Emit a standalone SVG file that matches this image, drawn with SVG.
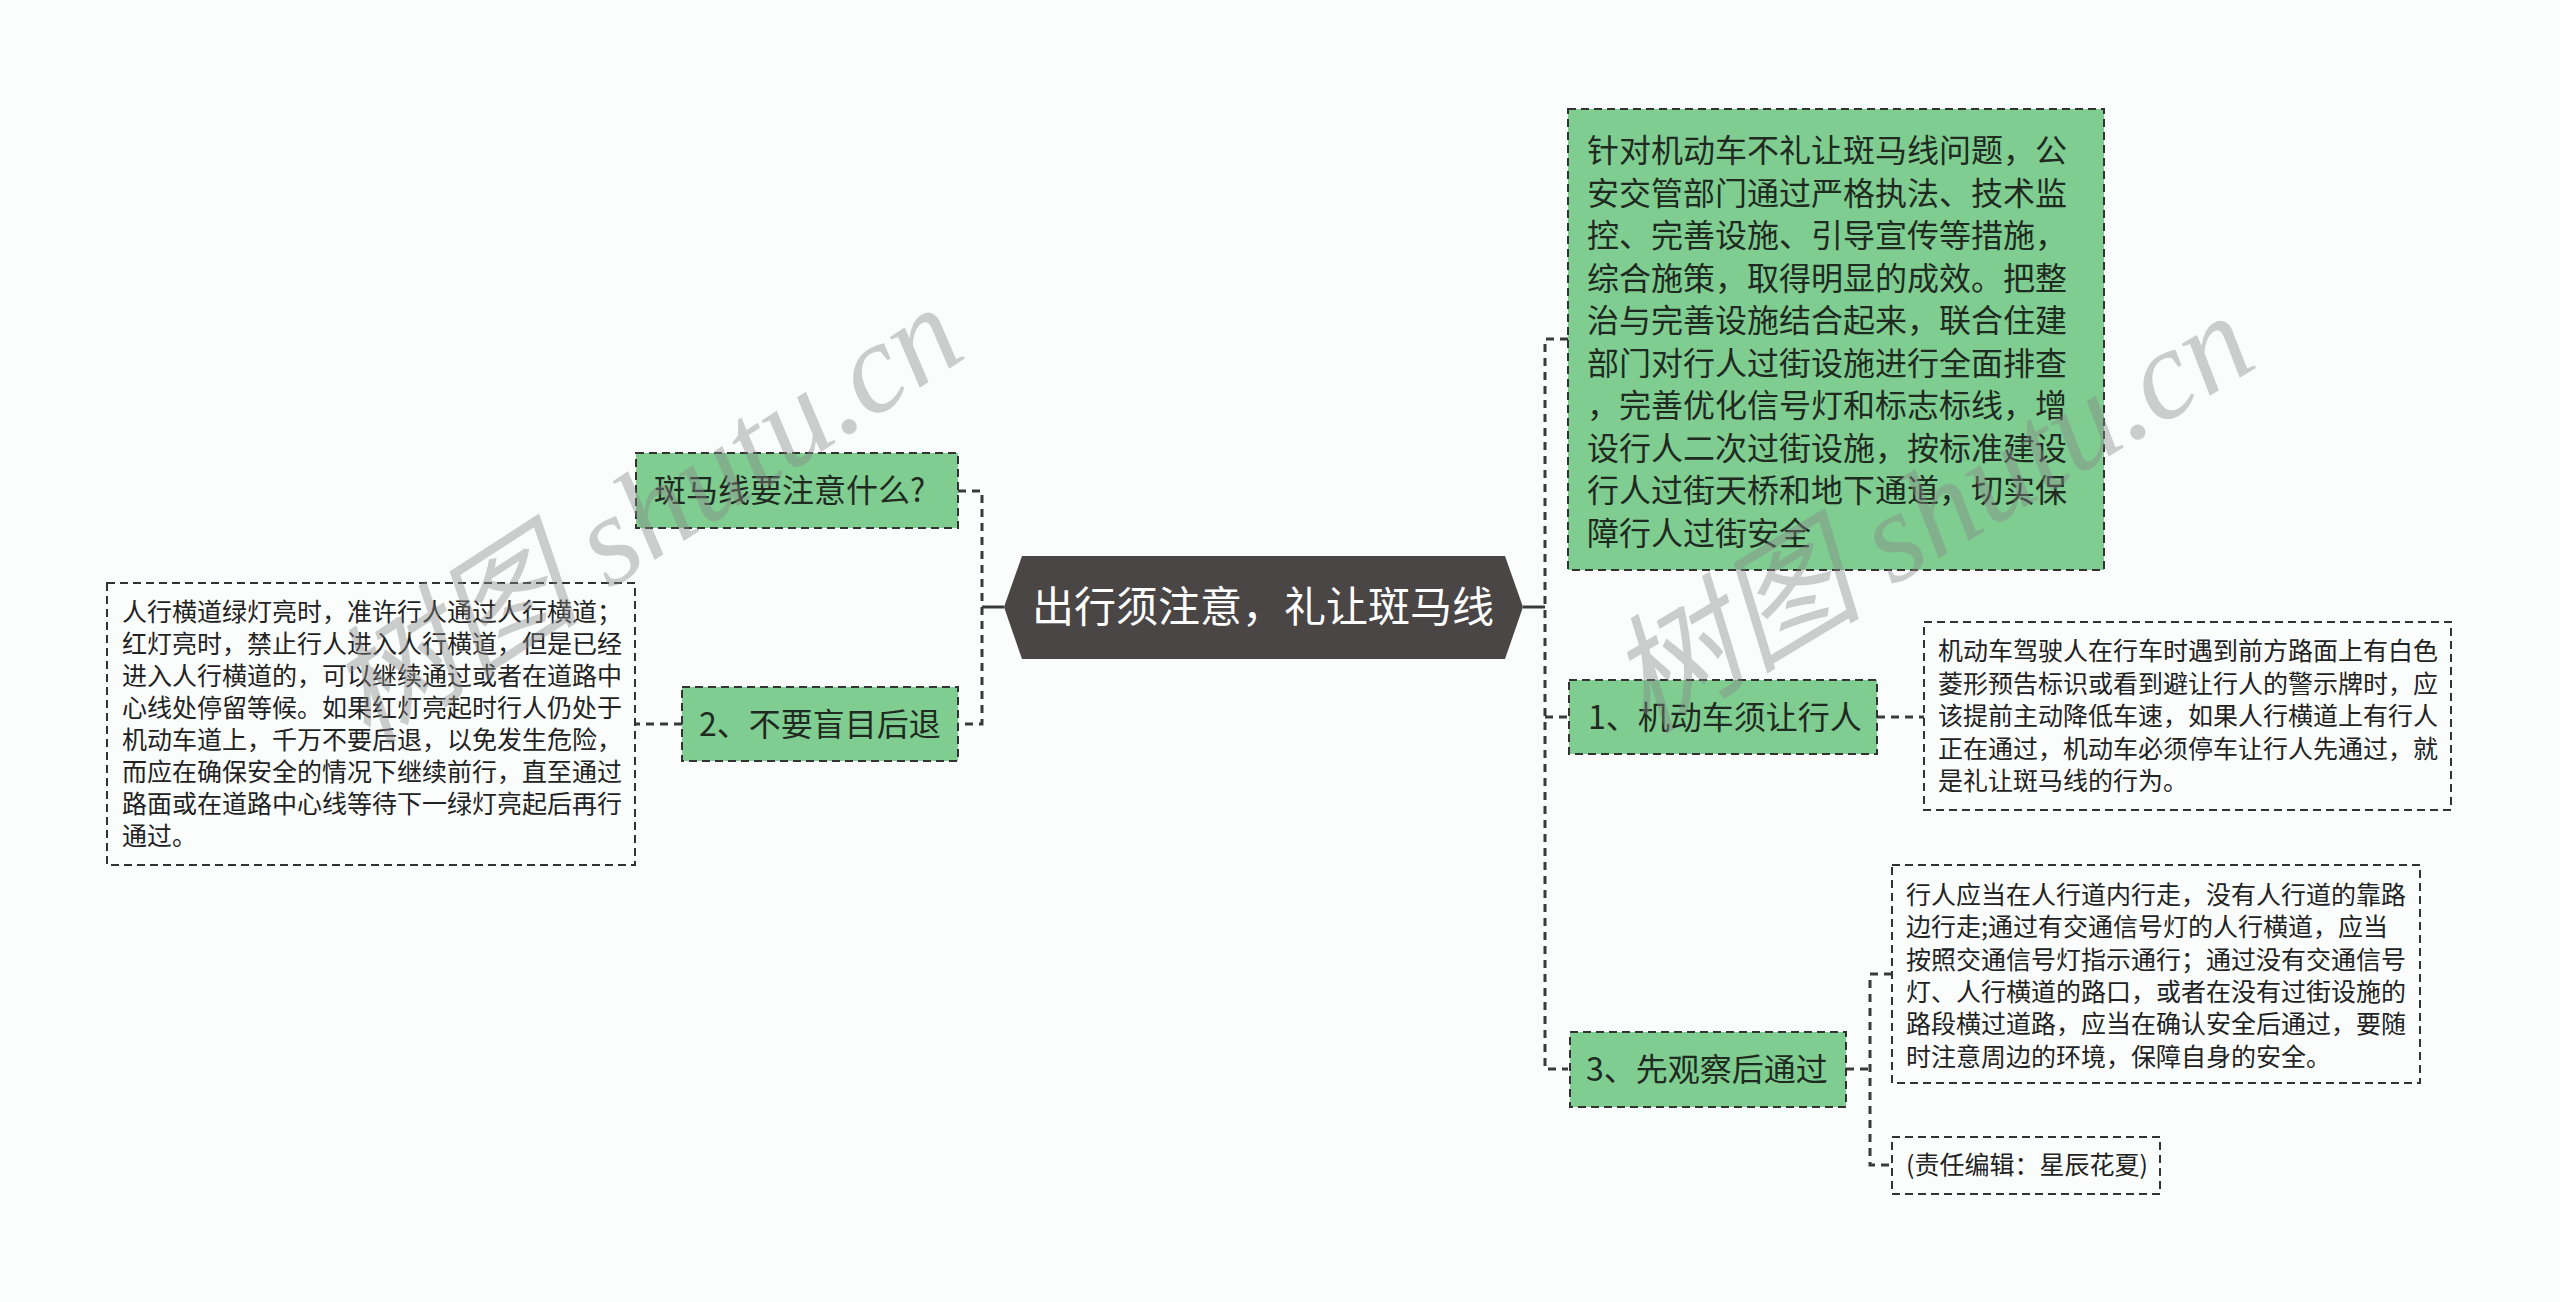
<svg xmlns="http://www.w3.org/2000/svg" width="2560" height="1302" viewBox="0 0 2560 1302">
<style>
.bg{fill:#fbfdfd}
.g{fill:#7fcd91;stroke:#333;stroke-width:2;stroke-dasharray:8 5}
.w{fill:#fbfdfd;stroke:#333;stroke-width:2;stroke-dasharray:8 5}
.lbl{font-family:"Noto Sans CJK SC","Noto Sans",sans-serif;font-size:32px;fill:#1f2a21}
.txt{font-family:"Noto Sans CJK SC","Noto Sans",sans-serif;font-size:25px;fill:#222}
.big{font-family:"Noto Sans CJK SC","Noto Sans",sans-serif;font-size:32px;fill:#1f2a21}
.ctr{font-family:"Noto Sans CJK SC","Noto Sans",sans-serif;font-size:42px;fill:#ffffff}
.con{fill:none;stroke:#3a3a3a;stroke-width:3;stroke-dasharray:8 6}
.sol{fill:none;stroke:#3a3a3a;stroke-width:3}
.wm{font-family:"Liberation Serif","Noto Sans CJK SC",serif;font-style:italic;font-size:128px;fill:#888;fill-opacity:0.42}
</style>
<rect class="bg" x="0" y="0" width="2560" height="1302"/>

<g id="connectors">
  <path class="sol" d="M1523,607 H1545"/>
  <path class="con" d="M1568,339 H1545 V1069 H1568"/>
  <path class="con" d="M1545,717 H1568"/>
  <path class="con" d="M1877,717 H1924"/>
  <path class="con" d="M1846,1069 H1870"/>
  <path class="con" d="M1892,974 H1870 V1165 H1892"/>
  <path class="sol" d="M1004,607 H982"/>
  <path class="con" d="M958,491 H982 V724 H958"/>
  <path class="con" d="M682,724 H635"/>
</g>

<g id="center">
  <polygon points="1004,607 1022,556 1505,556 1523,607 1505,659 1022,659" fill="#4b4646"/>
  <text class="ctr" x="1263" y="622" text-anchor="middle">出行须注意，礼让斑马线</text>
</g>

<g id="node-zebra-question">
  <rect class="g" x="636" y="453" width="322" height="75"/>
  <text class="lbl" x="654" y="502">斑马线要注意什么?</text>
</g>

<g id="node-no-retreat">
  <rect class="g" x="682" y="687" width="276" height="74"/>
  <text class="lbl" x="699" y="736">2、不要盲目后退</text>
</g>

<g id="node-left-text">
  <rect class="w" x="107" y="583" width="528" height="282"/>
  <text class="txt">
    <tspan x="122" y="621">人行横道绿灯亮时，准许行人通过人行横道；</tspan>
    <tspan x="122" y="653">红灯亮时，禁止行人进入人行横道，但是已经</tspan>
    <tspan x="122" y="685">进入人行横道的，可以继续通过或者在道路中</tspan>
    <tspan x="122" y="717">心线处停留等候。如果红灯亮起时行人仍处于</tspan>
    <tspan x="122" y="749">机动车道上，千万不要后退，以免发生危险，</tspan>
    <tspan x="122" y="781">而应在确保安全的情况下继续前行，直至通过</tspan>
    <tspan x="122" y="813">路面或在道路中心线等待下一绿灯亮起后再行</tspan>
    <tspan x="122" y="845">通过。</tspan>
  </text>
</g>

<g id="node-big">
  <rect class="g" x="1568" y="109" width="536" height="461"/>
  <text class="big">
    <tspan x="1587" y="162">针对机动车不礼让斑马线问题，公</tspan>
    <tspan x="1587" y="204.5">安交管部门通过严格执法、技术监</tspan>
    <tspan x="1587" y="247">控、完善设施、引导宣传等措施，</tspan>
    <tspan x="1587" y="289.5">综合施策，取得明显的成效。把整</tspan>
    <tspan x="1587" y="332">治与完善设施结合起来，联合住建</tspan>
    <tspan x="1587" y="374.5">部门对行人过街设施进行全面排查</tspan>
    <tspan x="1587" y="417">，完善优化信号灯和标志标线，增</tspan>
    <tspan x="1587" y="459.5">设行人二次过街设施，按标准建设</tspan>
    <tspan x="1587" y="502">行人过街天桥和地下通道，切实保</tspan>
    <tspan x="1587" y="544.5">障行人过街安全</tspan>
  </text>
</g>

<g id="node-yield">
  <rect class="g" x="1569" y="680" width="308" height="74"/>
  <text class="lbl" x="1588" y="729">1、机动车须让行人</text>
</g>

<g id="node-yield-text">
  <rect class="w" x="1924" y="622" width="527" height="188"/>
  <text class="txt">
    <tspan x="1938" y="660">机动车驾驶人在行车时遇到前方路面上有白色</tspan>
    <tspan x="1938" y="692.5">菱形预告标识或看到避让行人的警示牌时，应</tspan>
    <tspan x="1938" y="725">该提前主动降低车速，如果人行横道上有行人</tspan>
    <tspan x="1938" y="757.5">正在通过，机动车必须停车让行人先通过，就</tspan>
    <tspan x="1938" y="790">是礼让斑马线的行为。</tspan>
  </text>
</g>

<g id="node-observe">
  <rect class="g" x="1570" y="1032" width="276" height="75"/>
  <text class="lbl" x="1586" y="1081">3、先观察后通过</text>
</g>

<g id="node-observe-text">
  <rect class="w" x="1892" y="865" width="528" height="218"/>
  <text class="txt">
    <tspan x="1906" y="904">行人应当在人行道内行走，没有人行道的靠路</tspan>
    <tspan x="1906" y="936.3">边行走;通过有交通信号灯的人行横道，应当</tspan>
    <tspan x="1906" y="968.6">按照交通信号灯指示通行；通过没有交通信号</tspan>
    <tspan x="1906" y="1000.9">灯、人行横道的路口，或者在没有过街设施的</tspan>
    <tspan x="1906" y="1033.2">路段横过道路，应当在确认安全后通过，要随</tspan>
    <tspan x="1906" y="1065.5">时注意周边的环境，保障自身的安全。</tspan>
  </text>
</g>

<g id="node-editor">
  <rect class="w" x="1892" y="1137" width="268" height="57"/>
  <text class="txt" x="1906" y="1174">(责任编辑：星辰花夏)</text>
</g>

<g id="watermarks">
  <text class="wm" x="655" y="555" text-anchor="middle" transform="rotate(-33 655 530)">树图 shutu.cn</text>
  <text class="wm" x="1935" y="555" text-anchor="middle" transform="rotate(-31 1935 520)">树图 shutu.cn</text>
</g>
</svg>
